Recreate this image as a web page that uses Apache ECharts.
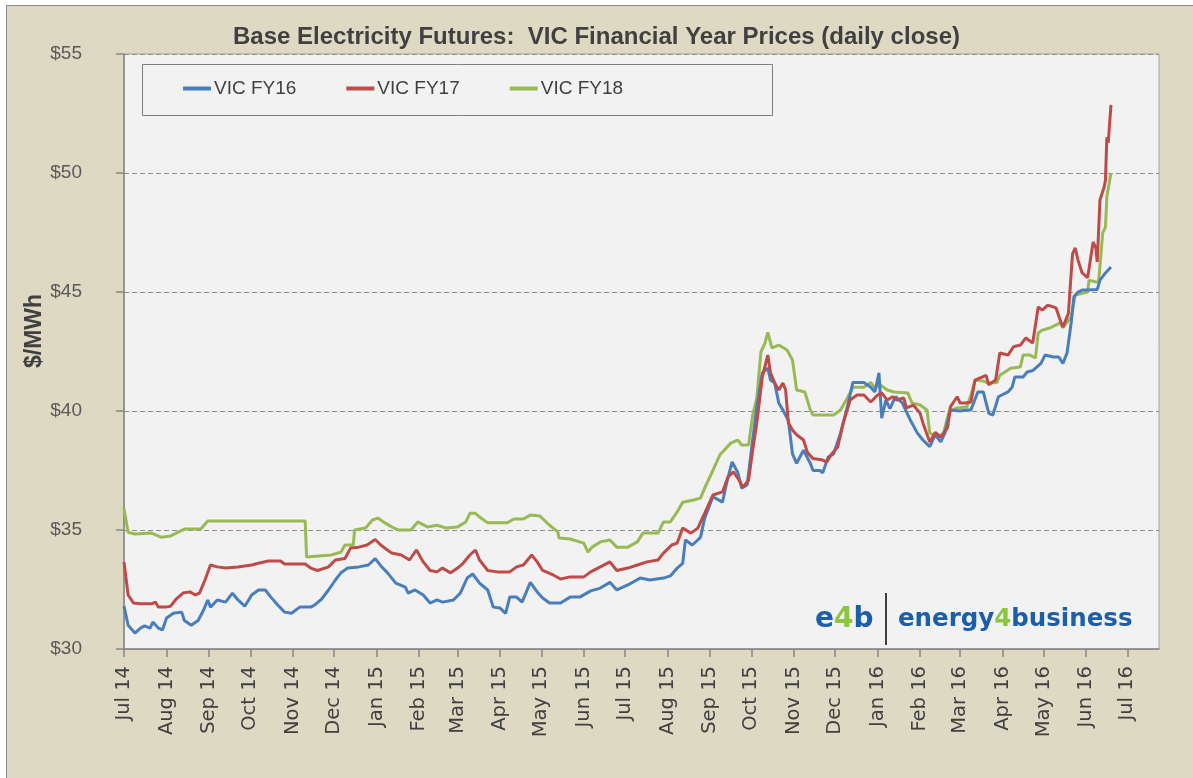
<!DOCTYPE html>
<html><head><meta charset="utf-8">
<script src="https://cdn.jsdelivr.net/npm/echarts@6/dist/echarts.min.js"></script>
<style>
html,body{margin:0;padding:0;background:#fff;overflow:hidden;width:1193px;height:778px;}
#bg{position:absolute;left:6px;top:5px;width:1200px;height:800px;background:#ddd9c3;border-left:1px solid #8c8c8c;border-top:1px solid #8c8c8c;}
#chart{position:absolute;left:0;top:0;width:1193px;height:778px;}
</style></head><body>
<div id="bg"></div><div id="chart"></div>
<script>
const titleText = 'Base Electricity Futures:  VIC Financial Year Prices (daily close)';
const yAxisTitle = '$/MWh';
const seriesNames = ['VIC FY16', 'VIC FY17', 'VIC FY18'];
const tickDates = ['2014-07-01','2014-08-01','2014-09-01','2014-10-01','2014-11-01','2014-12-01','2015-01-01','2015-02-01','2015-03-01','2015-04-01','2015-05-01','2015-06-01','2015-07-01','2015-08-01','2015-09-01','2015-10-01','2015-11-01','2015-12-01','2016-01-01','2016-02-01','2016-03-01','2016-04-01','2016-05-01','2016-06-01','2016-07-01'];
const tickLabels = ['Jul 14','Aug 14','Sep 14','Oct 14','Nov 14','Dec 14','Jan 15','Feb 15','Mar 15','Apr 15','May 15','Jun 15','Jul 15','Aug 15','Sep 15','Oct 15','Nov 15','Dec 15','Jan 16','Feb 16','Mar 16','Apr 16','May 16','Jun 16','Jul 16'];
const xMin = '2014-07-01', xMax = '2016-07-24';

const fy16 = [
['2014-07-01',31.8],['2014-07-04',31.0],['2014-07-09',30.67],['2014-07-13',30.88],['2014-07-16',30.97],['2014-07-20',30.88],['2014-07-22',31.13],['2014-07-26',30.88],['2014-07-29',30.8],
['2014-08-01',31.3],['2014-08-06',31.5],['2014-08-12',31.55],['2014-08-14',31.2],['2014-08-19',31.0],['2014-08-24',31.2],['2014-08-28',31.64],['2014-08-31',32.06],
['2014-09-02',31.76],['2014-09-07',32.06],['2014-09-13',31.97],['2014-09-18',32.35],['2014-09-22',32.06],['2014-09-27',31.8],
['2014-10-02',32.27],['2014-10-07',32.48],['2014-10-12',32.48],['2014-10-16',32.18],['2014-10-21',31.85],['2014-10-26',31.55],['2014-10-31',31.5],
['2014-11-06',31.76],['2014-11-14',31.76],['2014-11-17',31.85],['2014-11-22',32.1],['2014-11-27',32.48],
['2014-12-02',32.9],['2014-12-06',33.2],['2014-12-11',33.4],['2014-12-19',33.45],['2014-12-26',33.53],['2014-12-31',33.8],
['2015-01-04',33.5],['2015-01-09',33.2],['2015-01-15',32.77],['2015-01-22',32.6],['2015-01-24',32.35],['2015-01-29',32.48],
['2015-02-04',32.27],['2015-02-09',31.93],['2015-02-14',32.06],['2015-02-18',31.97],['2015-02-26',32.06],
['2015-03-03',32.35],['2015-03-08',32.98],['2015-03-12',33.15],['2015-03-17',32.77],['2015-03-23',32.48],['2015-03-27',31.76],
['2015-04-01',31.72],['2015-04-05',31.5],['2015-04-08',32.18],['2015-04-13',32.18],['2015-04-17',31.97],['2015-04-23',32.8],['2015-04-28',32.4],
['2015-05-02',32.14],['2015-05-07',31.93],['2015-05-15',31.93],['2015-05-22',32.18],['2015-05-29',32.18],
['2015-06-06',32.44],['2015-06-13',32.56],['2015-06-20',32.8],['2015-06-25',32.48],
['2015-07-03',32.69],['2015-07-12',32.98],['2015-07-19',32.9],['2015-07-29',32.98],
['2015-08-03',33.07],['2015-08-08',33.4],['2015-08-12',33.6],['2015-08-14',34.58],['2015-08-19',34.37],['2015-08-23',34.58],['2015-08-25',34.7],['2015-08-28',35.5],
['2015-09-03',36.4],['2015-09-10',36.17],['2015-09-13',36.97],['2015-09-17',37.86],['2015-09-21',37.44],['2015-09-24',36.76],['2015-09-28',36.9],
['2015-10-02',38.78],['2015-10-05',40.17],['2015-10-09',41.6],['2015-10-13',41.8],['2015-10-15',41.3],['2015-10-18',41.18],['2015-10-21',40.34],['2015-10-24',40.04],['2015-10-28',39.6],['2015-10-31',38.2],
['2015-11-03',37.8],['2015-11-08',38.35],['2015-11-13',37.8],['2015-11-15',37.5],['2015-11-20',37.5],['2015-11-22',37.4],['2015-11-26',38.07],['2015-11-30',38.2],
['2015-12-05',39.07],['2015-12-10',40.17],['2015-12-14',41.2],['2015-12-22',41.2],['2015-12-27',41.0],['2015-12-30',40.8],
['2016-01-02',41.6],['2016-01-04',39.7],['2016-01-07',40.46],['2016-01-10',40.1],['2016-01-14',40.6],['2016-01-19',40.34],['2016-01-25',39.6],['2016-01-30',39.07],
['2016-02-03',38.78],['2016-02-08',38.5],['2016-02-12',39.0],['2016-02-16',38.7],['2016-02-19',39.07],['2016-02-23',40.04],
['2016-03-01',40.0],['2016-03-06',40.04],['2016-03-09',40.04],['2016-03-14',40.8],['2016-03-18',40.8],['2016-03-22',39.9],['2016-03-25',39.83],['2016-03-29',40.6],
['2016-04-05',40.8],['2016-04-08',41.0],['2016-04-10',41.43],['2016-04-16',41.43],['2016-04-19',41.64],['2016-04-23',41.7],['2016-04-29',42.0],
['2016-05-02',42.35],['2016-05-08',42.27],['2016-05-12',42.27],['2016-05-15',42.0],['2016-05-18',42.44],['2016-05-21',43.7],['2016-05-23',44.8],['2016-05-26',45.0],['2016-05-29',45.08],
['2016-06-02',45.08],['2016-06-09',45.1],['2016-06-11',45.5],['2016-06-15',45.8],['2016-06-19',46.05]
];

const fy17 = [
['2014-07-01',33.65],['2014-07-04',32.27],['2014-07-08',31.93],['2014-07-13',31.9],['2014-07-21',31.9],['2014-07-24',31.97],['2014-07-26',31.76],['2014-07-31',31.76],
['2014-08-04',31.8],['2014-08-08',32.1],['2014-08-13',32.35],['2014-08-18',32.4],['2014-08-22',32.27],['2014-08-25',32.35],['2014-08-29',32.9],
['2014-09-02',33.53],['2014-09-07',33.45],['2014-09-13',33.4],['2014-09-22',33.45],
['2014-10-02',33.53],['2014-10-07',33.6],['2014-10-14',33.7],['2014-10-23',33.7],['2014-10-26',33.57],
['2014-11-10',33.57],['2014-11-14',33.4],['2014-11-19',33.3],['2014-11-27',33.45],
['2014-12-02',33.74],['2014-12-09',33.8],['2014-12-13',34.24],['2014-12-19',34.28],['2014-12-25',34.37],['2014-12-31',34.6],
['2015-01-04',34.37],['2015-01-12',34.03],['2015-01-19',33.95],['2015-01-25',33.74],['2015-01-30',34.16],
['2015-02-04',33.66],['2015-02-09',33.3],['2015-02-14',33.24],['2015-02-18',33.4],['2015-02-24',33.2],
['2015-03-01',33.4],['2015-03-05',33.6],['2015-03-10',33.95],['2015-03-14',34.16],['2015-03-17',33.74],['2015-03-23',33.3],['2015-03-30',33.24],
['2015-04-08',33.24],['2015-04-13',33.45],['2015-04-18',33.53],['2015-04-24',33.95],['2015-04-28',33.66],
['2015-05-02',33.3],['2015-05-10',33.1],['2015-05-15',32.94],['2015-05-22',33.03],
['2015-06-01',33.03],['2015-06-06',33.24],['2015-06-13',33.45],['2015-06-20',33.66],['2015-06-25',33.3],
['2015-07-03',33.4],['2015-07-10',33.53],['2015-07-17',33.66],['2015-07-25',33.74],['2015-07-29',34.03],
['2015-08-04',34.37],['2015-08-08',34.45],['2015-08-12',35.08],['2015-08-18',34.87],['2015-08-23',35.08],['2015-08-28',35.7],
['2015-09-03',36.47],['2015-09-10',36.6],['2015-09-14',37.23],['2015-09-18',37.44],['2015-09-22',37.1],['2015-09-25',36.8],['2015-09-29',37.1],
['2015-10-02',38.36],['2015-10-05',39.5],['2015-10-09',41.43],['2015-10-13',42.35],['2015-10-15',41.6],['2015-10-18',41.18],['2015-10-21',40.88],['2015-10-24',41.18],['2015-10-26',40.88],['2015-10-28',39.5],['2015-10-31',39.2],
['2015-11-03',39.0],['2015-11-08',38.78],['2015-11-11',38.24],['2015-11-15',38.0],['2015-11-22',37.94],['2015-11-25',37.86],['2015-11-28',38.15],
['2015-12-03',38.5],['2015-12-07',39.5],['2015-12-12',40.46],['2015-12-17',40.67],['2015-12-22',40.67],['2015-12-27',40.38],
['2016-01-01',40.67],['2016-01-04',40.76],['2016-01-08',40.46],['2016-01-12',40.6],['2016-01-15',40.46],['2016-01-20',40.55],['2016-01-22',40.13],['2016-01-27',40.25],
['2016-02-01',39.9],['2016-02-03',39.5],['2016-02-08',38.7],['2016-02-12',39.1],['2016-02-16',38.9],['2016-02-21',39.3],['2016-02-23',40.17],['2016-02-28',40.6],
['2016-03-01',40.34],['2016-03-05',40.34],['2016-03-09',40.38],['2016-03-12',41.3],['2016-03-20',41.5],['2016-03-22',41.1],['2016-03-27',41.3],['2016-03-30',42.44],
['2016-04-05',42.35],['2016-04-09',42.7],['2016-04-14',42.77],['2016-04-18',43.07],['2016-04-23',42.86],['2016-04-27',44.37],['2016-04-30',44.24],
['2016-05-04',44.45],['2016-05-10',44.33],['2016-05-13',43.82],['2016-05-15',43.53],['2016-05-19',44.1],['2016-05-22',46.6],['2016-05-24',46.85],['2016-05-26',46.34],['2016-05-29',45.8],
['2016-06-02',45.6],['2016-06-03',45.6],['2016-06-06',47.1],['2016-06-08',46.85],['2016-06-09',46.26],['2016-06-11',48.87],['2016-06-14',49.4],['2016-06-15',49.7],['2016-06-16',51.5],['2016-06-17',51.26],['2016-06-19',52.86]
];

const fy18 = [
['2014-07-01',35.9],['2014-07-04',34.9],['2014-07-09',34.83],['2014-07-21',34.87],['2014-07-28',34.7],
['2014-08-04',34.75],['2014-08-09',34.9],['2014-08-14',35.04],['2014-08-26',35.04],['2014-08-31',35.38],
['2014-11-10',35.38],['2014-11-11',33.87],['2014-11-29',33.95],
['2014-12-06',34.07],['2014-12-09',34.37],['2014-12-15',34.37],['2014-12-16',35.0],['2014-12-24',35.08],['2014-12-29',35.42],
['2015-01-02',35.5],['2015-01-07',35.3],['2015-01-12',35.13],['2015-01-17',35.0],['2015-01-26',35.0],['2015-01-31',35.34],
['2015-02-07',35.13],['2015-02-14',35.2],['2015-02-21',35.08],
['2015-03-01',35.13],['2015-03-07',35.34],['2015-03-10',35.7],['2015-03-14',35.7],['2015-03-17',35.55],['2015-03-23',35.3],
['2015-04-06',35.3],['2015-04-11',35.46],['2015-04-18',35.46],['2015-04-23',35.63],['2015-04-30',35.59],
['2015-05-07',35.2],['2015-05-13',34.92],['2015-05-14',34.66],['2015-05-22',34.62],
['2015-06-01',34.45],['2015-06-04',34.07],['2015-06-07',34.28],['2015-06-13',34.5],['2015-06-20',34.58],['2015-06-25',34.28],
['2015-07-03',34.28],['2015-07-10',34.5],['2015-07-14',34.87],['2015-07-25',34.87],['2015-07-29',35.34],
['2015-08-03',35.34],['2015-08-08',35.76],['2015-08-12',36.17],['2015-08-20',36.26],['2015-08-25',36.34],['2015-08-28',36.76],
['2015-09-03',37.5],['2015-09-08',38.15],['2015-09-16',38.65],['2015-09-21',38.78],['2015-09-24',38.57],['2015-09-29',38.57],
['2015-10-02',39.83],['2015-10-05',40.55],['2015-10-08',42.48],['2015-10-11',42.86],['2015-10-13',43.3],['2015-10-16',42.65],['2015-10-21',42.77],['2015-10-27',42.56],['2015-10-31',42.14],
['2015-11-03',40.88],['2015-11-09',40.8],['2015-11-13',40.04],['2015-11-15',39.83],['2015-11-30',39.83],
['2015-12-05',40.04],['2015-12-10',40.55],['2015-12-14',41.0],['2015-12-22',41.0],['2015-12-27',41.2],['2015-12-30',40.97],
['2016-01-03',41.1],['2016-01-08',40.88],['2016-01-13',40.8],['2016-01-23',40.76],['2016-01-26',40.34],
['2016-02-01',40.25],['2016-02-06',40.04],['2016-02-08',39.07],['2016-02-14',38.9],['2016-02-18',39.07],['2016-02-22',39.96],['2016-02-28',40.13],
['2016-03-06',40.17],['2016-03-09',40.67],['2016-03-12',41.3],['2016-03-18',41.26],['2016-03-21',41.18],['2016-03-28',41.2],['2016-03-30',41.5],
['2016-04-07',41.8],['2016-04-14',41.85],['2016-04-16',42.35],['2016-04-21',42.35],['2016-04-25',42.23],['2016-04-27',43.28],['2016-04-30',43.4],
['2016-05-06',43.5],['2016-05-13',43.7],['2016-05-15',43.5],['2016-05-21',43.95],['2016-05-24',44.87],['2016-05-29',44.95],
['2016-06-02',45.0],['2016-06-03',45.5],['2016-06-08',45.42],['2016-06-10',45.42],['2016-06-13',47.48],['2016-06-15',47.73],['2016-06-16',49.0],['2016-06-19',50.0]
];

const yMin = 30, yMax = 55, yStep = 5;
const colors = ['#4a7ebb', '#be4b48', '#98b954'];

function toTime(s) { const p = s.split('-'); return Date.UTC(+p[0], +p[1] - 1, +p[2]); }
const tickTimes = tickDates.map(toTime);
const conv = arr => arr.map(d => [toTime(d[0]), d[1]]);

const chart = echarts.init(document.getElementById('chart'), null, {renderer: 'canvas'});
const axisGray = '#868686';
chart.setOption({
  animation: false,
  backgroundColor: 'transparent',
  title: {
    text: titleText, left: 'center', top: 20,
    textStyle: {fontFamily: 'Liberation Sans', fontWeight: 'bold', fontSize: 24, color: '#404040'}
  },
  legend: {
    data: seriesNames, left: 183, top: 79, padding: 0, icon: 'rect', itemWidth: 28, itemHeight: 4, itemGap: 50,
    textStyle: {fontFamily: 'Liberation Sans', fontSize: 19, color: '#404040', padding: [0, 0, 0, -2]}
  },
  grid: {left: 124, right: 34, top: 54, bottom: 129, show: true, backgroundColor: '#f2f2f2', borderColor: '#a6a6a6', borderWidth: 1},
  xAxis: {
    type: 'value', min: toTime(xMin), max: toTime(xMax), scale: true,
    axisLine: {lineStyle: {color: axisGray, width: 1.5}},
    axisTick: {show: true, customValues: tickTimes, length: 8, lineStyle: {color: axisGray, width: 1.5}},
    axisLabel: {
      customValues: tickTimes, rotate: 90, margin: 17, fontFamily: 'DejaVu Sans', fontSize: 19.5, color: '#404040',
      formatter: v => { const i = tickTimes.indexOf(v); return i >= 0 ? tickLabels[i] : ''; }
    },
    splitLine: {show: false}
  },
  yAxis: {
    type: 'value', min: yMin, max: yMax, interval: yStep,
    axisLine: {show: true, lineStyle: {color: axisGray, width: 1.5}},
    axisTick: {show: true, length: 8, lineStyle: {color: axisGray, width: 1.5}},
    axisLabel: {margin: 42, fontFamily: 'Liberation Sans', fontSize: 19, color: '#595959', formatter: v => '$' + v},
    splitLine: {show: true, lineStyle: {color: '#8c8c8c', type: [5, 3], width: 1}}
  },
  graphic: [
    {type: 'rect', z: 5, shape: {x: 142.5, y: 64.5, width: 630, height: 51}, style: {fill: null, stroke: '#7f7f7f', lineWidth: 1}},
    {type: 'text', z: 5, x: 35, y: 331, rotation: Math.PI / 2,
      style: {text: yAxisTitle, fontFamily: 'Liberation Sans', fontWeight: 'bold', fontSize: 23, fill: '#404040', align: 'center', verticalAlign: 'middle'}},
    {type: 'text', z: 5, x: 815, y: 620,
      style: {text: '{b|e}{g|4}{b|b}', align: 'left', verticalAlign: 'middle',
        rich: {b: {fontFamily: 'DejaVu Sans', fontWeight: 'bold', fontSize: 28, fill: '#1b5ea9'}, g: {fontFamily: 'DejaVu Sans', fontWeight: 'bold', fontSize: 28, fill: '#8cc63f'}}}},
    {type: 'line', z: 5, shape: {x1: 886, y1: 593, x2: 886, y2: 645}, style: {stroke: '#404040', lineWidth: 2}},
    {type: 'text', z: 5, x: 898, y: 620,
      style: {text: '{b|energy}{g|4}{b|business}', align: 'left', verticalAlign: 'middle',
        rich: {b: {fontFamily: 'DejaVu Sans', fontWeight: 'bold', fontSize: 24.5, fill: '#1b5ea9'}, g: {fontFamily: 'DejaVu Sans', fontWeight: 'bold', fontSize: 24.5, fill: '#8cc63f'}}}}
  ],
  series: [
    {name: seriesNames[0], type: 'line', data: conv(fy16), showSymbol: false, symbol: 'none', color: colors[0], lineStyle: {width: 3, color: colors[0]}, z: 3},
    {name: seriesNames[1], type: 'line', data: conv(fy17), showSymbol: false, symbol: 'none', color: colors[1], lineStyle: {width: 3, color: colors[1]}, z: 4},
    {name: seriesNames[2], type: 'line', data: conv(fy18), showSymbol: false, symbol: 'none', color: colors[2], lineStyle: {width: 3, color: colors[2]}, z: 2}
  ]
});
</script></body></html>
